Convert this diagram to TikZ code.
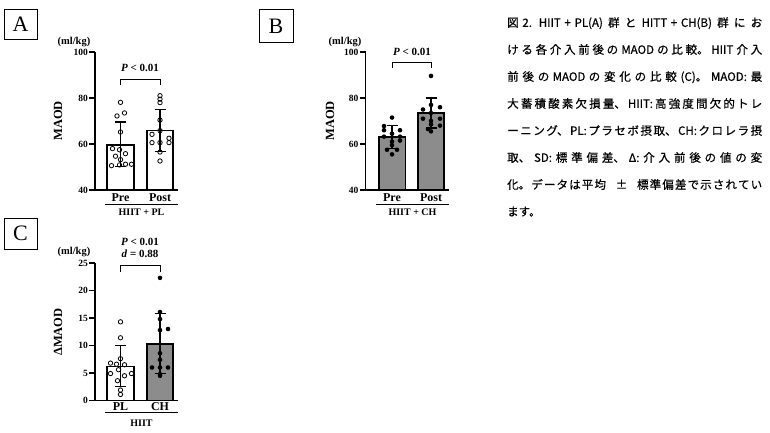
\documentclass[tikz,border=0pt]{standalone}
\usepackage{fontspec}
\setmainfont{Liberation Serif}
\newfontfamily\cjk[FakeBold=0.6]{Noto Sans CJK JP}
\definecolor{barGray}{RGB}{140,140,140}
\newcommand\ya[1]{190-(#1-40)*2.3}
\newcommand\yc[1]{400.5-(#1)*5.5}
\newcommand\capsetup{\XeTeXlinebreaklocale "ja"\relax\XeTeXlinebreakskip=0pt plus 6pt\relax\parindent=0pt\relax}
\begin{document}
\begin{tikzpicture}[x=1pt,y=-1pt,
  panelbox/.style={draw,line width=0.8pt},
  boxletter/.style={inner sep=0,font=\fontsize{22}{24}\selectfont},
  unit/.style={inner sep=0,font=\bfseries\fontsize{10.5}{12}\selectfont},
  ticklbl/.style={inner sep=0,anchor=east,font=\bfseries\fontsize{9.5}{11}\selectfont},
  ylab/.style={inner sep=0,rotate=90,font=\bfseries\fontsize{12.5}{14}\selectfont},
  xlab/.style={inner sep=0,font=\bfseries\fontsize{12}{14}\selectfont},
  grp/.style={inner sep=0,font=\bfseries\fontsize{10}{12}\selectfont},
  ptxt/.style={inner sep=0,font=\bfseries\fontsize{11}{13}\selectfont},
  axisline/.style={line width=1.3pt},
  tickline/.style={line width=1.2pt},
  barbox/.style={draw,line width=1.4pt},
  errline/.style={line width=1.2pt},
  brk/.style={line width=1pt},
  uline/.style={line width=1.2pt},
  odot/.style={draw,line width=0.8pt},
  fdot/.style={fill=black},
  caption/.style={inner sep=0,anchor=north west,text width=255pt,align=justify,
    font=\cjk\fontsize{11.5}{27}\selectfont\capsetup}
]
\fill[white] (0,0) rectangle (770,432);
\useasboundingbox (0,0) rectangle (770,432);

%% ---------------- Panel A ----------------
\draw[panelbox] (4,9) rectangle (37,39.5);
\node[boxletter] (labA) at (20.5,24.5) {A};
\node[unit] (unitA) at (74,42) {(ml/kg)};
\node[ylab] (ylabA) at (58,121) {MAOD};
\draw[barbox,fill=white] (107,190) rectangle (134,{\ya{59.5}});
\draw[barbox,fill=white] (147,190) rectangle (173,{\ya{65.8}});
% error bars
\draw[errline] (120.5,{\ya{50.2}}) -- (120.5,{\ya{69.6}});
\draw[errline] (115,{\ya{50.2}}) -- (126,{\ya{50.2}});
\draw[errline] (115,{\ya{69.6}}) -- (126,{\ya{69.6}});
\draw[errline] (160,{\ya{56.8}}) -- (160,{\ya{74.9}});
\draw[errline] (154.5,{\ya{56.8}}) -- (165.5,{\ya{56.8}});
\draw[errline] (154.5,{\ya{74.9}}) -- (165.5,{\ya{74.9}});
% dots
\foreach \dx/\v in {0/78.1,-3.5/72.2,4/73.5,0/65.2,-8/58,-1/57.5,5/55.8,-5/54.7,0/53.2,-9/50.6,-1/50.9,5/51.2,11/51.2}
  \draw[odot] ({120.5+\dx},{\ya{\v}}) circle[radius=2.2];
\foreach \dx/\v in {0/81,0/79.5,0/78,0/70.4,0/65.8,-8/64.2,9/62.5,-8/60.6,0/60.6,9/60.6,0/56.5,0/52.6}
  \draw[odot] ({160+\dx},{\ya{\v}}) circle[radius=2.2];
% axes
\draw[axisline,line join=miter] (95,{\ya{100}}) -- (95,190) -- (178,190);
\foreach \v in {40,60,80,100}{
  \draw[tickline] (89,{\ya{\v}}) -- (95,{\ya{\v}});
  \node[ticklbl] (tA\v) at (88,{\ya{\v}}) {\v};
}
\node[xlab] (preA) at (120.5,197.5) {Pre};
\node[xlab] (postA) at (160,197.5) {Post};
\draw[uline] (105,204.5) -- (178,204.5);
\node[grp] (grpA) at (141.5,212.5) {HIIT + PL};
\draw[brk] (120.5,85) -- (120.5,79) -- (160,79) -- (160,85);
\node[ptxt] (pA) at (140,68) {\textit{P} < 0.01};

%% ---------------- Panel B ----------------
\draw[panelbox] (259,9) rectangle (293,42.5);
\node[boxletter] (labB) at (276,26) {B};
\node[unit] (unitB) at (345,42) {(ml/kg)};
\node[ylab] (ylabB) at (330,121) {MAOD};
\draw[barbox,fill=barGray] (379,190) rectangle (405.5,{\ya{63}});
\draw[barbox,fill=barGray] (418,190) rectangle (444,{\ya{73.5}});
\draw[errline] (392,{\ya{58}}) -- (392,{\ya{68}});
\draw[errline] (386.5,{\ya{58}}) -- (397.5,{\ya{58}});
\draw[errline] (386.5,{\ya{68}}) -- (397.5,{\ya{68}});
\draw[errline] (431,{\ya{67}}) -- (431,{\ya{80}});
\draw[errline] (425.5,{\ya{67}}) -- (436.5,{\ya{67}});
\draw[errline] (425.5,{\ya{80}}) -- (436.5,{\ya{80}});
\foreach \dx/\v in {0/71.5,-8/67.8,-8/66,8/66,0/64.5,-8/63.2,8/63.2,8/61.5,0/61,0/59.5,-5/57.5,5/57.5,0/55.5}
  \fill[fdot] ({392+\dx},{\ya{\v}}) circle[radius=2.3];
\foreach \dx/\v in {0/89.6,-8/75,9/76,0/77,0/73.5,-8/71,9/71,0/70,9/68,0/68.5,-3/66.5,0/65.5}
  \fill[fdot] ({431+\dx},{\ya{\v}}) circle[radius=2.3];
\draw[axisline,line join=miter] (365.5,{\ya{100}}) -- (365.5,190) -- (449,190);
\foreach \v in {40,60,80,100}{
  \draw[tickline] (359.5,{\ya{\v}}) -- (365.5,{\ya{\v}});
  \node[ticklbl] (tB\v) at (358.5,{\ya{\v}}) {\v};
}
\node[xlab] (preB) at (392,197.5) {Pre};
\node[xlab] (postB) at (431,197.5) {Post};
\draw[uline] (376,204.5) -- (449,204.5);
\node[grp] (grpB) at (412.5,212.5) {HIIT + CH};
\draw[brk] (392,68) -- (392,62) -- (431,62) -- (431,68);
\node[ptxt] (pB) at (412,51.5) {\textit{P} < 0.01};

%% ---------------- Panel C ----------------
\draw[panelbox] (4,218) rectangle (37,249);
\node[boxletter] (labC) at (20.5,233.5) {C};
\node[unit] (unitC) at (74,252.5) {(ml/kg)};
\node[ptxt] (pC) at (140,241.5) {\textit{P} < 0.01};
\node[ptxt] (dC) at (140,254) {\textit{d} = 0.88};
\node[ylab] (ylabC) at (58,332) {ΔMAOD};
\draw[barbox,fill=white] (107,400.5) rectangle (134,{\yc{6.2}});
\draw[barbox,fill=barGray] (147,400.5) rectangle (173,{\yc{10.3}});
\draw[errline] (120.5,{\yc{2.6}}) -- (120.5,{\yc{10}});
\draw[errline] (115,{\yc{2.6}}) -- (126,{\yc{2.6}});
\draw[errline] (115,{\yc{10}}) -- (126,{\yc{10}});
\draw[errline] (160,{\yc{4.9}}) -- (160,{\yc{15.8}});
\draw[errline] (154.5,{\yc{4.9}}) -- (165.5,{\yc{4.9}});
\draw[errline] (154.5,{\yc{15.8}}) -- (165.5,{\yc{15.8}});
\foreach \dx/\v in {0/14.3,0/11.4,0/7.6,-10/6.8,-4/6.6,4/6.5,-2/5.6,-10/4.9,11/4.9,4/4.5,-3/3.6,0/1.9,0/1.1}
  \draw[odot] ({120.5+\dx},{\yc{\v}}) circle[radius=2.2];
\foreach \dx/\v in {0/22.3,0/16.1,0/14.8,8/13,0/12.8,0/8.6,0/7.4,-8/6,8/6,0/6,0/4.8,0/4.5}
  \fill[fdot] ({160+\dx},{\yc{\v}}) circle[radius=2.3];
\draw[axisline,line join=miter] (95,{\yc{25}}) -- (95,400.5) -- (178,400.5);
\foreach \v in {0,5,10,15,20,25}{
  \draw[tickline] (89,{\yc{\v}}) -- (95,{\yc{\v}});
  \node[ticklbl] (tC\v) at (88,{\yc{\v}}) {\v};
}
\node[xlab] (plC) at (120.5,406.5) {PL};
\node[xlab] (chC) at (160,406.5) {CH};
\draw[uline] (105,412.5) -- (178,412.5);
\node[grp] (grpC) at (141.5,423) {HIIT};
\draw[brk] (120.5,272) -- (120.5,265.5) -- (160,265.5) -- (160,272);

%% ---------------- Caption ----------------
\node[caption] (cap) at (507,17) {図 2. HIIT + PL(A)群とHITT + CH(B)群にお\linebreak
ける各介入前後の MAOD の比較。HIIT 介入\linebreak
前後の MAOD の変化の比較(C)。MAOD:最\linebreak
大蓄積酸素欠損量、HIIT:高強度間欠的トレ\linebreak
ーニング、PL:プラセボ摂取、CH:クロレラ摂\linebreak
取、SD:標準偏差、Δ:介入前後の値の変\linebreak
化。データは平均\hspace{7pt} ±\hspace{7pt} 標準偏差で示されてい\linebreak
ます。};
\end{tikzpicture}
\end{document}
